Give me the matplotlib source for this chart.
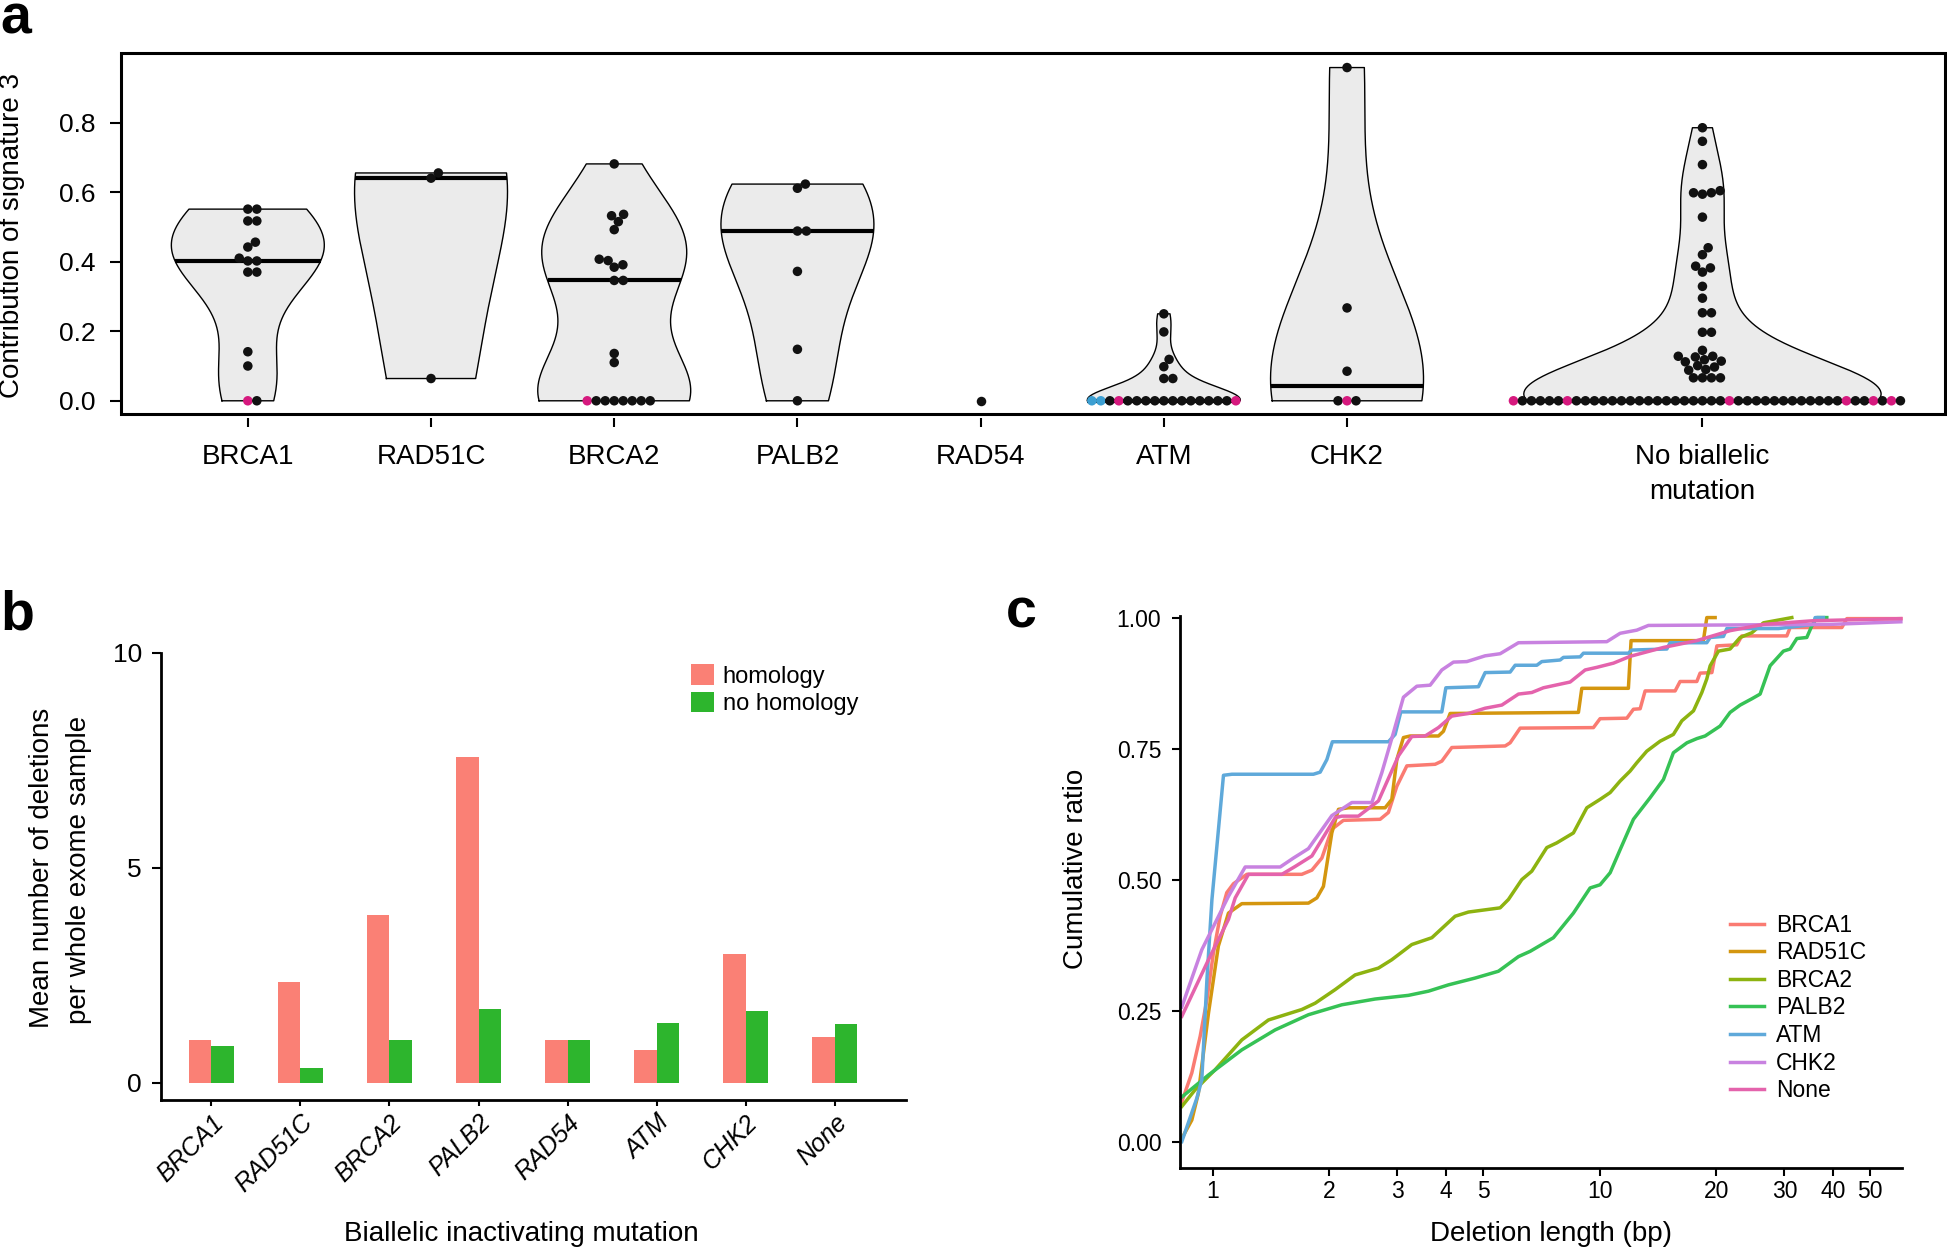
import numpy as np
import matplotlib
matplotlib.use("Agg")
import matplotlib.pyplot as plt
from matplotlib.patches import Rectangle

plt.rcParams['font.family'] = ['Liberation Sans', 'DejaVu Sans']

W, H, DPI = 1947, 1248, 100


def fx(px):
    return px / W


def fy(py):
    return 1 - py / H


# ---------------- panel a : signature 3 contribution ----------------
genes_a = ['BRCA1', 'RAD51C', 'BRCA2', 'PALB2', 'RAD54', 'ATM', 'CHK2',
           'No biallelic\nmutation']
pos_a = [1, 2, 3, 4, 5, 6, 7, 8.94]
sig_brca1 = [0, 0, 0.100, 0.141, 0.370, 0.370, 0.402, 0.402, 0.410, 0.442,
             0.456, 0.517, 0.517, 0.551, 0.551]
sig_rad51c = [0.064, 0.640, 0.655]
sig_brca2 = [0] * 8 + [0.110, 0.136, 0.346, 0.346, 0.384, 0.391, 0.403, 0.407,
                       0.492, 0.515, 0.532, 0.536, 0.681]
sig_palb2 = [0, 0.148, 0.372, 0.488, 0.488, 0.611, 0.623]
sig_rad54 = [0.0]
sig_atm = [0] * 17 + [0.064, 0.064, 0.098, 0.119, 0.198, 0.250]
sig_chk2 = [0, 0, 0, 0.085, 0.267, 0.958]
sig_none = [0] * 44 + [0.066, 0.066, 0.066, 0.066, 0.088, 0.090, 0.097, 0.101,
                       0.112, 0.114, 0.118, 0.126, 0.128, 0.128, 0.145, 0.197,
                       0.197, 0.253, 0.253, 0.295, 0.329, 0.370, 0.382, 0.387,
                       0.420, 0.440, 0.528, 0.594, 0.598, 0.598, 0.604, 0.679,
                       0.746, 0.785]
sig3 = [sig_brca1, sig_rad51c, sig_brca2, sig_palb2, sig_rad54, sig_atm,
        sig_chk2, sig_none]
# point colours (k black, m magenta, b blue); tied values listed left to right
col_brca1 = 'mk' + 'k' * 13
col_rad51c = 'kkk'
col_brca2 = 'm' + 'k' * 20
col_palb2 = 'k' * 7
col_rad54 = 'k'
col_atm = 'bbkm' + 'k' * 12 + 'm' + 'k' * 6
col_chk2 = 'kmk' + 'kkk'
col_none = ''.join('m' if i in (0, 6, 24, 37, 40, 42) else 'k' for i in range(44)) + 'k' * 34
dot_cols = [col_brca1, col_rad51c, col_brca2, col_palb2, col_rad54, col_atm,
            col_chk2, col_none]
violin_w = [0.835] * 7 + [1.95]
cmap_pts = {'k': '#111111', 'm': '#d6197e', 'b': '#3c9fd2'}

# ---------------- panel b : deletions with / without homology ----------------
genes_b = ['BRCA1', 'RAD51C', 'BRCA2', 'PALB2', 'RAD54', 'ATM', 'CHK2', 'None']
homology = [0.99, 2.34, 3.90, 7.59, 0.99, 0.76, 3.00, 1.06]
no_homology = [0.85, 0.35, 0.99, 1.72, 0.99, 1.39, 1.67, 1.37]

# ---------------- panel c : cumulative deletion length ----------------
len_brca1 = [0.832, 0.883, 0.928, 0.966, 1.004, 1.045, 1.087, 1.131, 1.225, 1.699,
             1.804, 1.914, 2.031, 2.176, 2.707, 2.844, 2.990, 3.174, 3.756, 3.908,
             4.147, 5.697, 5.868, 6.228, 9.632, 10.02, 11.75, 12.22, 12.72, 13.10,
             15.66, 16.13, 17.82, 18.17, 19.49, 20.08, 22.61, 23.29, 30.44, 31.05,
             42.24, 43.51, 60.0]
cum_brca1 = [0.076, 0.131, 0.201, 0.271, 0.360, 0.430, 0.475, 0.492, 0.510, 0.510,
             0.518, 0.541, 0.596, 0.613, 0.615, 0.628, 0.678, 0.717, 0.720, 0.726,
             0.752, 0.755, 0.761, 0.789, 0.790, 0.807, 0.808, 0.825, 0.826, 0.860,
             0.860, 0.878, 0.878, 0.894, 0.895, 0.946, 0.948, 0.965, 0.965, 0.981,
             0.981, 0.998, 0.998]
len_rad51c = [0.832, 0.883, 0.918, 0.975, 1.034, 1.098, 1.189, 1.767, 1.858, 1.932,
              2.031, 2.113, 2.242, 2.789, 2.902, 2.990, 3.110, 3.236, 3.830, 3.946,
              4.106, 8.810, 8.988, 11.86, 12.05, 18.53, 18.91, 19.87]
cum_rad51c = [0.006, 0.041, 0.092, 0.245, 0.373, 0.436, 0.454, 0.455, 0.465, 0.487,
              0.589, 0.634, 0.637, 0.637, 0.653, 0.729, 0.771, 0.774, 0.774, 0.783,
              0.817, 0.819, 0.865, 0.865, 0.956, 0.956, 1.000, 1.000]
len_brca2 = [0.832, 0.901, 1.014, 1.189, 1.393, 1.699, 1.839, 2.072, 2.333, 2.680,
             2.902, 3.269, 3.683, 4.230, 4.579, 5.529, 5.809, 6.291, 6.676, 7.298,
             7.745, 8.551, 9.261, 10.02, 10.64, 11.29, 11.98, 12.47, 13.23, 14.32,
             15.50, 16.30, 17.47, 18.36, 18.91, 19.29, 20.27, 21.72, 23.06, 24.72,
             26.49, 29.83, 31.36]
cum_brca2 = [0.067, 0.099, 0.137, 0.194, 0.232, 0.252, 0.264, 0.290, 0.318, 0.331,
             0.347, 0.376, 0.389, 0.430, 0.438, 0.446, 0.462, 0.500, 0.516, 0.561,
             0.570, 0.589, 0.637, 0.653, 0.666, 0.688, 0.707, 0.723, 0.745, 0.764,
             0.777, 0.803, 0.822, 0.857, 0.883, 0.908, 0.936, 0.940, 0.962, 0.971,
             0.990, 0.997, 1.000]
len_palb2 = [0.832, 0.975, 1.189, 1.449, 1.767, 2.156, 2.628, 3.204, 3.610, 4.064,
             4.764, 5.473, 6.166, 6.610, 7.591, 8.551, 9.445, 10.02, 10.64, 11.29,
             12.22, 13.49, 14.61, 15.50, 16.80, 17.82, 18.72, 20.47, 21.72, 23.06,
             24.72, 25.97, 27.56, 29.83, 31.05, 32.31, 34.28, 35.32, 36.39, 38.62]
cum_palb2 = [0.085, 0.127, 0.175, 0.213, 0.242, 0.261, 0.272, 0.279, 0.287, 0.299,
             0.312, 0.325, 0.353, 0.363, 0.389, 0.436, 0.484, 0.490, 0.513, 0.557,
             0.615, 0.656, 0.691, 0.742, 0.761, 0.769, 0.774, 0.793, 0.819, 0.833,
             0.845, 0.854, 0.908, 0.936, 0.940, 0.960, 0.962, 0.984, 1.000, 1.000]
len_atm = [0.832, 0.910, 0.937, 0.966, 0.995, 1.066, 1.121, 1.820, 1.895, 1.972,
           2.038, 2.844, 2.960, 3.062, 3.908, 4.003, 4.859, 5.057, 5.868, 6.046,
           6.878, 7.085, 7.900, 8.057, 8.899, 9.075, 11.86, 12.10, 14.91, 15.20,
           18.91, 19.29, 20.88, 21.30, 28.96, 35.66, 36.02, 37.84]
cum_atm = [0.000, 0.083, 0.118, 0.309, 0.461, 0.699, 0.701, 0.701, 0.705, 0.729,
           0.763, 0.763, 0.777, 0.820, 0.820, 0.866, 0.868, 0.895, 0.896, 0.909,
           0.909, 0.916, 0.919, 0.924, 0.925, 0.932, 0.932, 0.938, 0.940, 0.952,
           0.952, 0.962, 0.964, 0.979, 0.979, 0.987, 1.000, 1.000]
len_chk2 = [0.832, 0.937, 1.098, 1.213, 1.494, 1.616, 1.767, 2.031, 2.288, 2.577,
            2.735, 2.930, 3.110, 3.368, 3.646, 3.908, 4.188, 4.536, 5.057, 5.529,
            6.166, 10.43, 11.29, 12.47, 13.36, 39.39, 60.0]
cum_chk2 = [0.257, 0.366, 0.468, 0.524, 0.524, 0.541, 0.559, 0.622, 0.647, 0.647,
            0.704, 0.780, 0.848, 0.869, 0.871, 0.900, 0.915, 0.916, 0.927, 0.931,
            0.952, 0.954, 0.970, 0.976, 0.985, 0.987, 0.992]
len_none = [0.832, 0.975, 1.098, 1.143, 1.237, 1.509, 1.633, 1.804, 2.072, 2.156,
            2.379, 2.680, 3.019, 3.269, 3.539, 3.830, 4.147, 4.579, 5.057, 5.585,
            6.166, 6.676, 7.153, 8.385, 9.168, 9.829, 10.85, 11.98, 14.61, 17.82,
            21.72, 26.49, 35.66, 60.0]
cum_none = [0.239, 0.347, 0.424, 0.465, 0.510, 0.510, 0.525, 0.545, 0.618, 0.621,
            0.621, 0.650, 0.736, 0.773, 0.774, 0.790, 0.812, 0.817, 0.827, 0.833,
            0.854, 0.857, 0.866, 0.877, 0.900, 0.905, 0.913, 0.926, 0.943, 0.956,
            0.975, 0.987, 0.994, 0.998]
groups_c = ['BRCA1', 'RAD51C', 'BRCA2', 'PALB2', 'ATM', 'CHK2', 'None']
lens_c = [len_brca1, len_rad51c, len_brca2, len_palb2, len_atm, len_chk2, len_none]
cums_c = [cum_brca1, cum_rad51c, cum_brca2, cum_palb2, cum_atm, cum_chk2, cum_none]
colors_c = ['#fa7b72', '#d4960f', '#8db310', '#36c255', '#5fa9da', '#c882e0', '#e463ac']


def kde(v, grid):
    v = np.asarray(v, float)
    h = v.std(ddof=1) * (4 / (3 * len(v))) ** 0.2
    return np.exp(-0.5 * ((grid[:, None] - v[None, :]) / h) ** 2).sum(1)


def swarm(vals, sx, sy, d):
    # simple beeswarm in pixel space, points placed in ascending order
    vals = np.asarray(vals, float)
    offs = np.zeros(len(vals))
    placed = []
    for i in np.argsort(vals, kind='stable'):
        y = vals[i] * sy
        near = [(px, py) for px, py in placed if abs(py - y) < d]
        cands = [0.0]
        for px, py in near:
            dx = np.sqrt(d * d - (py - y) ** 2)
            cands += [px + dx, px - dx]
        cands.sort(key=lambda c: (round(abs(c), 6), -c))
        for c in cands:
            if all((c - px) ** 2 + (y - py) ** 2 >= d * d - 1e-6 for px, py in near):
                break
        placed.append((c, y))
        offs[i] = c
    # tied values: colours are given left to right
    for u in np.unique(vals):
        idx = np.where(vals == u)[0]
        offs[idx] = np.sort(offs[idx])
    return offs / sx


fig = plt.figure(figsize=(W / DPI, H / DPI), dpi=DPI)

# ================= panel a =================
axa = fig.add_axes([fx(120.5), fy(414), fx(1945) - fx(120.5), fy(53.3) - fy(414)])
axa.set_xlim(0.305, 10.264)
axa.set_ylim(-0.038, 0.999)
sx = (1945 - 120.5) / (10.264 - 0.305)
sy = (414 - 53.3) / (0.999 + 0.038)

for p, v, w, cols in zip(pos_a, sig3, violin_w, dot_cols):
    v = np.asarray(v)
    if len(v) > 1:
        ys = np.linspace(v.min(), v.max(), 300)
        dens = kde(v, ys)
        half = w / 2 * dens / dens.max()
        axa.fill_betweenx(ys, p - half, p + half, color='#ebebeb', lw=0, zorder=1)
        axa.plot(np.r_[p - half, (p + half)[::-1], p - half[0]],
                 np.r_[ys, ys[::-1], ys[0]], color='black', lw=1.0, zorder=2)
        med = np.median(v)
        hm = np.interp(med, ys, half)
        axa.plot([p - hm, p + hm], [med, med], color='black', lw=3.0,
                 solid_capstyle='butt', zorder=3)
    xo = swarm(v, sx, sy, 9.0)
    axa.scatter(p + xo, v, s=47, c=[cmap_pts[c] for c in cols], lw=0, zorder=4)

for s in axa.spines.values():
    s.set_color('none')
axa.spines['bottom'].set_position(('outward', 3))
axa.add_patch(Rectangle((0, 0), 1, 1, transform=axa.transAxes, fill=False,
                        lw=2.2, ec='black', clip_on=False, zorder=10))
axa.set_yticks([0, 0.2, 0.4, 0.6, 0.8])
axa.set_yticklabels(['0.0', '0.2', '0.4', '0.6', '0.8'])
axa.set_xticks(pos_a)
axa.set_xticklabels(genes_a, linespacing=1.45)
axa.tick_params(axis='y', length=8, width=1.5, pad=10, labelsize=19)
axa.tick_params(axis='x', length=6.5, width=1.5, pad=12, labelsize=20)
fig.text(fx(12), fy(236), 'Contribution of signature 3', rotation=90,
         ha='center', va='center', fontsize=20)

# ================= panel b =================
axb = fig.add_axes([fx(160.6), fy(1100), fx(906) - fx(160.6), fy(653) - fy(1100)])
xb = np.arange(1, len(genes_b) + 1)
bw = 0.254
axb.bar(xb - bw / 2, homology, bw, color='#fa8075', label='homology')
axb.bar(xb + bw / 2, no_homology, bw, color='#2db52d', label='no homology')
axb.set_xlim(0.43, 8.8)
axb.set_ylim(-0.4, 10)
axb.spines['top'].set_visible(False)
axb.spines['right'].set_visible(False)
axb.spines['left'].set_linewidth(2)
axb.spines['bottom'].set_linewidth(2)
axb.set_yticks([0, 5, 10])
axb.set_xticks(xb)
axb.set_xticklabels(genes_b, rotation=45, ha='right', va='top',
                    rotation_mode='anchor', style='italic')
axb.tick_params(axis='y', length=6.5, width=1.5, pad=7, labelsize=19)
axb.tick_params(axis='x', length=4.5, width=1.5, pad=3, labelsize=18)
axb.legend(loc='center left', bbox_to_anchor=(0.7116, 0.918), frameon=False,
           fontsize=17, handlelength=0.96, handleheight=0.96, handletextpad=0.38,
           labelspacing=0.16, borderpad=0, borderaxespad=0)
fig.text(fx(42), fy(868), 'Mean number of deletions', rotation=90,
         ha='center', va='center', fontsize=20)
fig.text(fx(79), fy(870), 'per whole exome sample', rotation=90,
         ha='center', va='center', fontsize=20)
fig.text(fx(521), fy(1241), 'Biallelic inactivating mutation', ha='center',
         va='baseline', fontsize=20)

# ================= panel c =================
axc = fig.add_axes([fx(1180), fy(1168), fx(1901.7) - fx(1180), fy(616) - fy(1168)])
for name, xs, ys, col in zip(groups_c, lens_c, cums_c, colors_c):
    axc.plot(xs, ys, color=col, lw=2.5, label=name, clip_on=False,
             solid_joinstyle='round')
axc.set_xscale('log')
axc.set_xlim(0.823, 60.3)
axc.set_ylim(-0.0505, 1.003)
xt = [1, 2, 3, 4, 5, 10, 20, 30, 40, 50]
axc.set_xticks(xt)
axc.set_xticklabels([str(t) for t in xt])
axc.xaxis.set_minor_locator(matplotlib.ticker.NullLocator())
axc.set_yticks([0, 0.25, 0.5, 0.75, 1.0])
axc.set_yticklabels(['0.00', '0.25', '0.50', '0.75', '1.00'])
axc.spines['top'].set_visible(False)
axc.spines['right'].set_visible(False)
axc.spines['left'].set_linewidth(2)
axc.spines['bottom'].set_linewidth(2)
axc.tick_params(axis='both', length=5.5, width=1.5, labelsize=16.5)
axc.tick_params(axis='y', pad=8)
axc.tick_params(axis='x', pad=3)
axc.legend(loc='center left', bbox_to_anchor=(0.762, 0.29), frameon=False,
           fontsize=16.5, handlelength=1.5, handletextpad=0.52, labelspacing=0.2,
           borderpad=0, borderaxespad=0)
fig.text(fx(1076), fy(869), 'Cumulative ratio', rotation=90, ha='center',
         va='center', fontsize=20)
fig.text(fx(1551), fy(1241), 'Deletion length (bp)', ha='center',
         va='baseline', fontsize=20)

# panel letters
for lab, x, y in [('a', 0, 33), ('b', 0, 629), ('c', 1006, 628)]:
    fig.text(fx(x), fy(y), lab, fontsize=40, weight='bold', ha='left', va='baseline')

fig.savefig('out.png', dpi=DPI)
